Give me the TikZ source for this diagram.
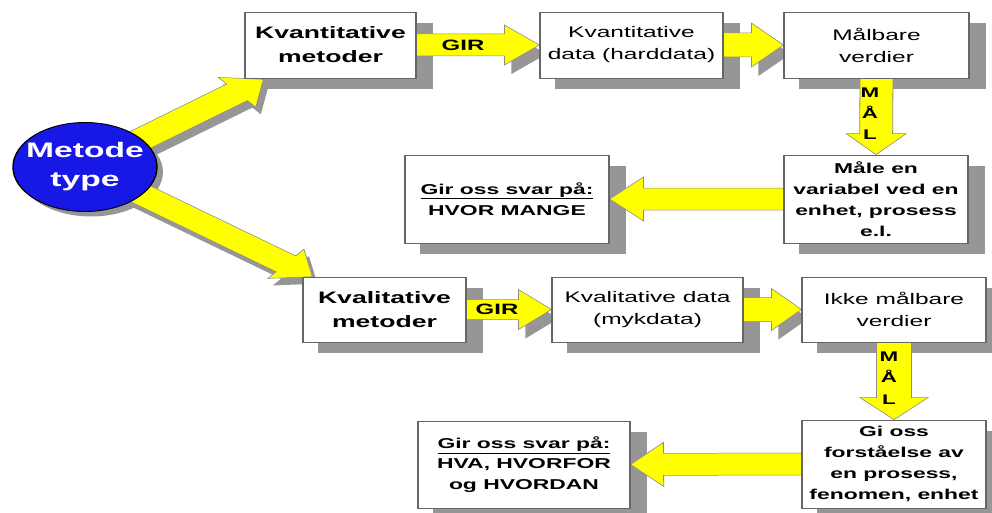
\documentclass[tikz,border=0pt]{standalone}
\usepackage{fontspec}
\setmainfont{Liberation Sans}
\usetikzlibrary{calc,shapes.geometric}
\pgfdeclarelayer{background}
\pgfdeclarelayer{shadow}
\pgfdeclarelayer{arrows}
\pgfsetlayers{background,shadow,arrows,main}
\definecolor{myellow}{RGB}{255,255,0}
\definecolor{mblue}{RGB}{24,24,230}
\definecolor{shgray}{RGB}{150,150,150}
% block arrow: [style]{start}{end}{half shaft}{half head}{head length}
\newcommand\blockarrow[6][]{%
  \coordinate (ba-n) at ($(#3)!#6!(#2)$);
  \path[#1] ($(#2)!#4!90:(#3)$) -- ($(ba-n)!#4!90:(#3)$) -- ($(ba-n)!#5!90:(#3)$) -- (#3)
    -- ($(ba-n)!#5!-90:(#3)$) -- ($(ba-n)!#4!-90:(#3)$) -- ($(#2)!#4!-90:(#3)$) -- cycle;}
% arrow head only: [style]{start}{end}{half head}{head length}
\newcommand\blockhead[5][]{%
  \coordinate (ba-n) at ($(#3)!#5!(#2)$);
  \path[#1] ($(ba-n)!#4!90:(#3)$) -- (#3) -- ($(ba-n)!#4!-90:(#3)$) -- cycle;}
\tikzset{
  stretch/.style={transform canvas={xscale=1.6}, x=0.625pt},
  box/.style={draw=black!60, line width=0.7pt, fill=white, inner sep=0pt, align=center},
  bigtxt/.style={font=\bfseries\fontsize{16.6}{24}\selectfont},
  regtxt/.style={font=\fontsize{15.3}{22}\selectfont},
  smalltxt/.style={font=\bfseries\fontsize{14.3}{21}\selectfont},
  yarrow/.style={fill=myellow, draw=black!45, line width=0.5pt},
  lbl/.style={font=\bfseries\fontsize{15}{20}\selectfont, inner sep=0pt, align=center},
}
\begin{document}
\begin{tikzpicture}[x=1pt,y=-1pt]
\useasboundingbox (0,0) rectangle (992,513);
\begin{pgfonlayer}{background}
  \fill[white] (0,0) rectangle (992,513);
\end{pgfonlayer}
\begin{scope}[stretch]
  \node[box, bigtxt, minimum width=106.875pt, minimum height=66pt] (kvm) at (330.5,45) {Kvantitative\\metoder};
  \node[box, regtxt, minimum width=114.375pt, minimum height=66pt] (kvd) at (631.5,45) {Kvantitative\\data (harddata)};
  \node[box, regtxt, minimum width=115.625pt, minimum height=66pt] (mv) at (876.5,45) {Målbare\\verdier};
  \node[box, smalltxt, minimum width=115pt, minimum height=88pt] (mal) at (876,199) {Måle en\\variabel ved en\\enhet, prosess\\e.l.};
  \node[box, smalltxt, minimum width=127.5pt, minimum height=88pt] (svar1) at (507,199) {\underline{Gir oss svar på:}\\HVOR MANGE};
  \node[box, bigtxt, minimum width=101.875pt, minimum height=65pt] (klm) at (384.5,309.5) {Kvalitative\\metoder};
  \node[box, regtxt, minimum width=119.375pt, minimum height=65pt] (kld) at (647.5,309.5) {Kvalitative data\\(mykdata)};
  \node[box, regtxt, minimum width=115pt, minimum height=65pt] (imv) at (894,309.5) {Ikke målbare\\verdier};
  \node[box, smalltxt, minimum width=115pt, minimum height=88pt] (gio) at (894,464) {Gi oss\\forståelse av\\en prosess,\\fenomen, enhet};
  \node[box, font=\bfseries\fontsize{14.3}{20.5}\selectfont, minimum width=132.5pt, minimum height=87pt] (svar2) at (524,464.5) {\underline{Gir oss svar på:}\\HVA, HVORFOR\\og HVORDAN};
  \node[ellipse, draw=black, line width=0.9pt, fill=mblue, text=white, inner xsep=-8pt, inner ysep=0pt,
        minimum width=90pt, minimum height=89pt, align=center,
        font=\bfseries\fontsize{21}{29}\selectfont] (mt) at (85,167) {Metode\\type};
  \node[lbl] (gir1) at (463,45) {GIR};
  \node[lbl] (gir2) at (497,309) {GIR};
  \node[lbl, font=\bfseries\fontsize{14}{21}\selectfont] (mal1) at (870,114) {M\\Å\\L};
  \node[lbl, font=\bfseries\fontsize{14}{21.5}\selectfont] (mal2) at (889,378) {M\\Å\\L};
\end{scope}
\begin{pgfonlayer}{arrows}
\begin{scope}[stretch]
  \coordinate (t1) at ($(kvm.south west)+(19,1)$);
  \coordinate (t2) at ($(klm.north west)+(10,0)$);
  \blockarrow[yarrow]{mt.center}{t1}{10.5pt}{19pt}{21pt}
  \blockarrow[yarrow]{mt.center}{t2}{10pt}{18.5pt}{21pt}
  \blockarrow[yarrow]{kvm.east}{kvd.west}{11pt}{20pt}{21.9pt}
  \blockarrow[yarrow]{kvd.east}{mv.west}{12pt}{22pt}{20pt}
  \blockarrow[yarrow]{mv.south}{mal.north}{10.3pt}{18.75pt}{21pt}
  \blockarrow[yarrow]{mal.west}{svar1.east}{11pt}{22pt}{21.25pt}
  \blockarrow[yarrow]{klm.east}{kld.west}{10pt}{20pt}{20.6pt}
  \blockarrow[yarrow]{kld.east}{imv.west}{12pt}{21pt}{18.75pt}
  \blockarrow[yarrow]{imv.south}{gio.north}{10.9pt}{21.25pt}{22pt}
  \blockarrow[yarrow]{gio.west}{svar2.east}{11pt}{22pt}{20.6pt}
\end{scope}
\end{pgfonlayer}
\begin{pgfonlayer}{shadow}
\begin{scope}[stretch]
  \foreach \n in {kvm,kvd,mv,mal,svar1,klm,kld,imv,gio,svar2}
    \fill[shgray] ($(\n.north west)+(16,11)$) rectangle ($(\n.south east)+(16,11)$);
  \fill[shgray] ($(mt.center)+(6,5)$) ellipse [x radius=45pt, y radius=44.5pt];
  \coordinate (m1) at ($(mt.center)+(5,7)$);
  \coordinate (u1) at ($(t1)+(5,7)$);
  \coordinate (u2) at ($(t2)+(5,7)$);
  \blockarrow[fill=shgray]{m1}{u1}{10.5pt}{19pt}{21pt}
  \blockarrow[fill=shgray]{m1}{u2}{10pt}{18.5pt}{21pt}
  \coordinate (a1) at ($(kvm.east)+(7,9)$); \coordinate (b1) at ($(kvd.west)+(7,9)$);
  \blockhead[fill=shgray]{a1}{b1}{20pt}{21.9pt}
  \coordinate (a2) at ($(kvd.east)+(7,9)$); \coordinate (b2) at ($(mv.west)+(7,9)$);
  \blockhead[fill=shgray]{a2}{b2}{22pt}{20pt}
  \coordinate (a3) at ($(klm.east)+(7,9)$); \coordinate (b3) at ($(kld.west)+(7,9)$);
  \blockhead[fill=shgray]{a3}{b3}{20pt}{20.6pt}
  \coordinate (a4) at ($(kld.east)+(7,9)$); \coordinate (b4) at ($(imv.west)+(7,9)$);
  \blockhead[fill=shgray]{a4}{b4}{21pt}{18.75pt}
\end{scope}
\end{pgfonlayer}
\end{tikzpicture}
\end{document}
